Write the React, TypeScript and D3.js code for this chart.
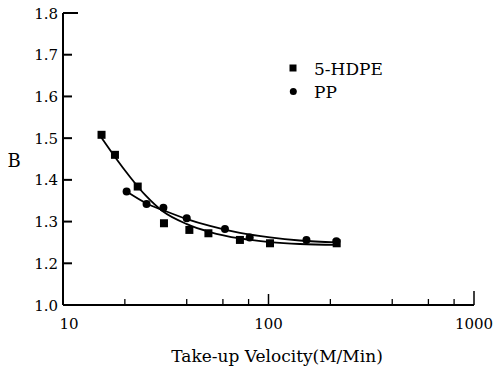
import React from "react";
import * as d3 from "d3";

// HDPE measured points
const hdpeX = [15.4, 17.9, 23.1, 31, 41.2, 51, 72.6, 101.7, 214.7];
const hdpeY = [1.508, 1.46, 1.384, 1.296, 1.28, 1.272, 1.256, 1.248, 1.248];
// PP measured points
const ppX = [20.4, 25.5, 30.8, 40, 61.4, 81, 153, 214];
const ppY = [1.372, 1.342, 1.333, 1.308, 1.282, 1.262, 1.256, 1.253];
// fitted curves
const hdpeFitX = [15.4, 17.9, 21.2, 25.3, 30.7, 40.1, 51.9, 72.6, 101.7, 142, 215];
const hdpeFitY = [1.501, 1.455, 1.407, 1.362, 1.324, 1.294, 1.275, 1.2595, 1.251, 1.2463, 1.244];
const ppFitX = [20.4, 25.5, 31.4, 40.1, 51.9, 72.6, 101.7, 142, 215];
const ppFitY = [1.372, 1.3435, 1.3255, 1.306, 1.2895, 1.2727, 1.262, 1.2547, 1.25];

const yTicks = [1.0, 1.2, 1.3, 1.4, 1.5, 1.6, 1.7, 1.8];
const xMajor = [100, 1000];
const xMinor = [20, 40, 60, 80, 200, 400, 600, 800];
const xLabels = [10, 100, 1000];
const legendItems = ["5-HDPE", "PP"];

const FONT = "DejaVu Serif";

export default function App() {
  const x = d3.scaleLog().domain([10, 1000]).range([63, 474]);
  const y = d3.scaleLinear().domain([1.0, 1.2, 1.8]).range([305, 263.3, 13]);
  const line = d3
    .line<[number, number]>()
    .x((d) => x(d[0]))
    .y((d) => y(d[1]))
    .curve(d3.curveMonotoneX);
  const hdpeFit = hdpeFitX.map((v, i) => [v, hdpeFitY[i]] as [number, number]);
  const ppFit = ppFitX.map((v, i) => [v, ppFitY[i]] as [number, number]);
  const x0 = x(10);
  const y0 = y(1.0);

  return (
    <svg
      width={494}
      height={372}
      style={{ position: "absolute", left: 0, top: 0, background: "#fff" }}
      fontFamily={FONT}
    >
      <rect width={494} height={372} fill="#fff" />
      {/* axes */}
      <line x1={x0} y1={y(1.8)} x2={x0} y2={y0} stroke="#000" strokeWidth={2} />
      <line x1={x0} y1={y0} x2={x(1000)} y2={y0} stroke="#000" strokeWidth={2} />
      {yTicks.map((t) => (
        <g key={t}>
          {t !== 1.0 && (
            <line
              x1={x0}
              x2={x0 + (t === 1.8 ? 15 : 9)}
              y1={y(t)}
              y2={y(t)}
              stroke="#000"
              strokeWidth={2}
            />
          )}
          <text x={58} y={y(t) + 5.5} fontSize={15} textAnchor="end" fill="#000">
            {t.toFixed(1)}
          </text>
        </g>
      ))}
      {xMajor.map((t) => (
        <line
          key={t}
          x1={x(t)}
          x2={x(t)}
          y1={y0}
          y2={y0 - (t === 1000 ? 14 : 11)}
          stroke="#000"
          strokeWidth={1.5}
        />
      ))}
      {xMinor.map((t) => (
        <line key={t} x1={x(t)} x2={x(t)} y1={y0} y2={y0 - 6} stroke="#000" strokeWidth={1.3} />
      ))}
      {xLabels.map((t) => (
        <text key={t} x={x(t) + (t === 10 ? 6 : 0)} y={329} fontSize={15} textAnchor="middle" fill="#000">
          {t}
        </text>
      ))}
      <text x={277} y={362} fontSize={17} textAnchor="middle" fill="#000">
        Take-up Velocity(M/Min)
      </text>
      <text x={14} y={167} fontSize={18} textAnchor="middle" fill="#000">
        B
      </text>
      {/* curves */}
      <path d={line(hdpeFit) || ""} fill="none" stroke="#000" strokeWidth={1.8} />
      <path d={line(ppFit) || ""} fill="none" stroke="#000" strokeWidth={1.8} />
      {/* markers */}
      {hdpeX.map((v, i) => (
        <rect key={"h" + i} x={x(v) - 4} y={y(hdpeY[i]) - 4} width={8} height={8} fill="#000" />
      ))}
      {ppX.map((v, i) => (
        <circle key={"p" + i} cx={x(v)} cy={y(ppY[i])} r={4} fill="#000" />
      ))}
      {/* legend */}
      <rect x={289.5} y={64.5} width={7} height={7} fill="#000" />
      <circle cx={293.3} cy={91.5} r={3.5} fill="#000" />
      <text x={314} y={75} fontSize={17} fill="#000">
        {legendItems[0]}
      </text>
      <text x={314} y={98} fontSize={17} fill="#000">
        {legendItems[1]}
      </text>
    </svg>
  );
}
